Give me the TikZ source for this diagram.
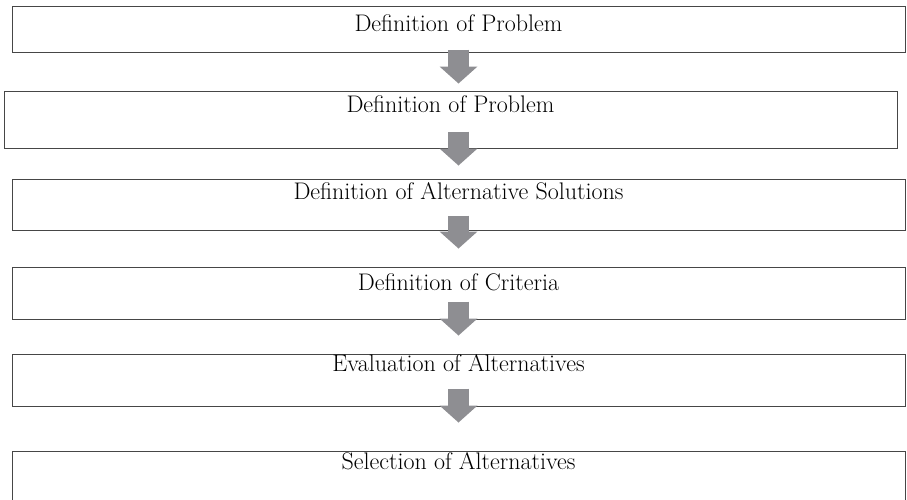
\documentclass[tikz,border=0pt]{standalone}
\usepackage{xcolor}
\usepackage{tikz}
\usetikzlibrary{positioning, arrows.meta}

\definecolor{arrowgray}{RGB}{142,142,146}
\definecolor{edgegray}{RGB}{70,70,70}

\begin{document}
\begin{tikzpicture}[
      x=1pt, y=-1pt,
      stagebox/.style={draw=edgegray, line width=1pt, minimum width=893pt, inner sep=0pt},
      stagetext/.style={anchor=base, inner sep=0pt, font=\fontsize{24}{28}\selectfont, text=black},
      flowarr/.style={arrowgray, line width=21pt, -{Triangle[width=38pt, length=17pt, line width=0pt]}}
    ]
    \useasboundingbox (0,0) rectangle (907,499);

    \node[stagebox, minimum height=46pt] (b1) at (458.5,29) {};
    \node[stagebox, minimum height=57pt] (b2) at (450.5,119.5) {};
    \node[stagebox, minimum height=51pt] (b3) at (458.5,204.5) {};
    \node[stagebox, minimum height=52pt] (b4) at (458.5,293) {};
    \node[stagebox, minimum height=52pt] (b5) at (458.5,380) {};
    \node[stagebox, minimum height=60pt] (b6) at (458.5,481) {};

    \node[stagetext] (t1) at ([yshift=-26pt]b1.north) {Definition of Problem};
    \node[stagetext] (t2) at ([yshift=-22pt]b2.north) {Definition of Problem};
    \node[stagetext] (t3) at ([yshift=-21pt]b3.north) {Definition of Alternative Solutions};
    \node[stagetext] (t4) at ([yshift=-24pt]b4.north) {Definition of Criteria};
    \node[stagetext] (t5) at ([yshift=-18pt]b5.north) {Evaluation of Alternatives};
    \node[stagetext] (t6) at ([yshift=-19pt]b6.north) {Selection of Alternatives};

    \draw[flowarr] ([yshift=3pt]b1.south) -- ([yshift=7pt]b2.north -| b1.south);
    \draw[flowarr] ([yshift=17pt]b2.south -| b3.north) -- ([yshift=13pt]b3.north);
    \draw[flowarr] ([yshift=15pt]b3.south) -- ([yshift=18pt]b4.north);
    \draw[flowarr] ([yshift=18pt]b4.south) -- ([yshift=18pt]b5.north);
    \draw[flowarr] ([yshift=18pt]b5.south) -- ([yshift=28pt]b6.north);
  \end{tikzpicture}
\end{document}
